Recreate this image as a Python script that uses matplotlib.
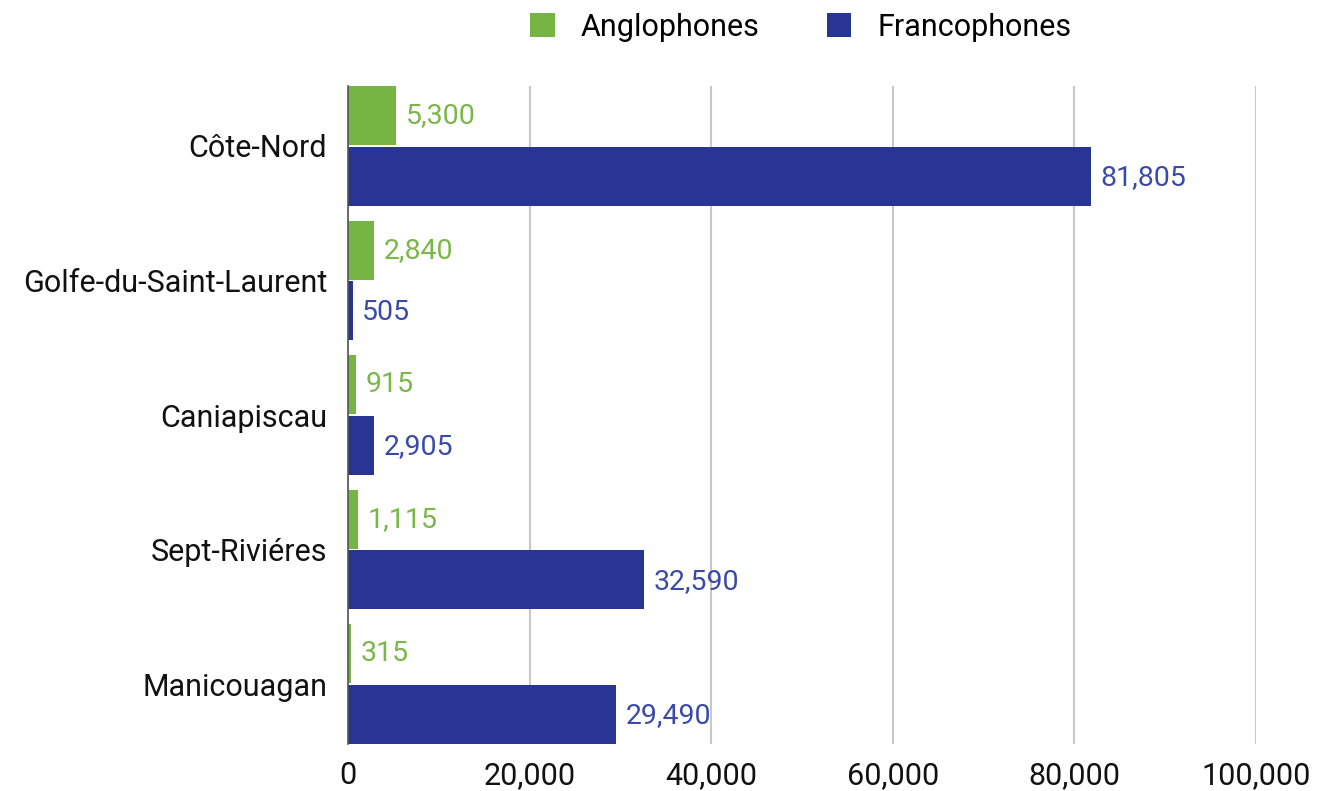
import matplotlib
matplotlib.use("Agg")
import matplotlib.pyplot as plt
from matplotlib.patches import Patch
import numpy as np

categories = ["Côte-Nord", "Golfe-du-Saint-Laurent", "Caniapiscau", "Sept-Riviéres", "Manicouagan"]
anglophones = [5300, 2840, 915, 1115, 315]
francophones = [81805, 505, 2905, 32590, 29490]
xticks = [0, 20000, 40000, 60000, 80000, 100000]
series_names = ["Anglophones", "Francophones"]

green = "#76b443"
blue = "#283593"
green_txt = "#7ab648"
blue_txt = "#3a4aa8"

plt.rcParams['font.family'] = ['Liberation Sans Narrow', 'DejaVu Sans Condensed', 'Roboto', 'DejaVu Sans']

fig = plt.figure(figsize=(13.30, 7.91), dpi=100)
ax = fig.add_axes([348/1330, 1-744/791, (1256-348)/1330, (744-86)/791])

y = np.arange(len(categories))
h = 0.44
off = 0.225
ax.barh(y - off, anglophones, height=h, color=green, zorder=3)
ax.barh(y + off, francophones, height=h, color=blue, zorder=3)

for yi, v in zip(y, anglophones):
    ax.annotate(f"{v:,}", (v, yi - off), xytext=(7, 0), textcoords="offset points",
                va="center", ha="left", fontsize=20.5, color=green_txt)
for yi, v in zip(y, francophones):
    ax.annotate(f"{v:,}", (v, yi + off), xytext=(7, -1), textcoords="offset points",
                va="center", ha="left", fontsize=20.5, color=blue_txt)

ax.set_ylim(len(categories) - 1 + 0.445, -0.445)
ax.set_xlim(0, 100000)
ax.set_yticks(y)
ax.set_yticklabels(categories, fontsize=22, color="#111111")
ax.set_xticks(xticks)
ax.set_xticklabels([f"{t:,}" for t in xticks], fontsize=22, color="#111111")
ax.tick_params(axis="y", length=0, pad=15)
ax.tick_params(axis="x", length=0, pad=12)
ax.xaxis.grid(True, color="#c8c8c8", linewidth=1.5, zorder=0)
ax.set_axisbelow(True)
for s in ["top", "right", "bottom"]:
    ax.spines[s].set_visible(False)
ax.spines["left"].set_color("#555555")
ax.spines["left"].set_linewidth(1.2)
ax.spines["left"].set_zorder(4)

handles = [Patch(facecolor=green, label=series_names[0]), Patch(facecolor=blue, label=series_names[1])]
fig.legend(handles=handles, loc="center", bbox_to_anchor=(801/1330, 1-27/791), ncol=2,
           frameon=False, fontsize=22, handlelength=0.8, handleheight=0.8,
           handletextpad=0.85, columnspacing=2.2)

fig.savefig("out.png", dpi=100)
